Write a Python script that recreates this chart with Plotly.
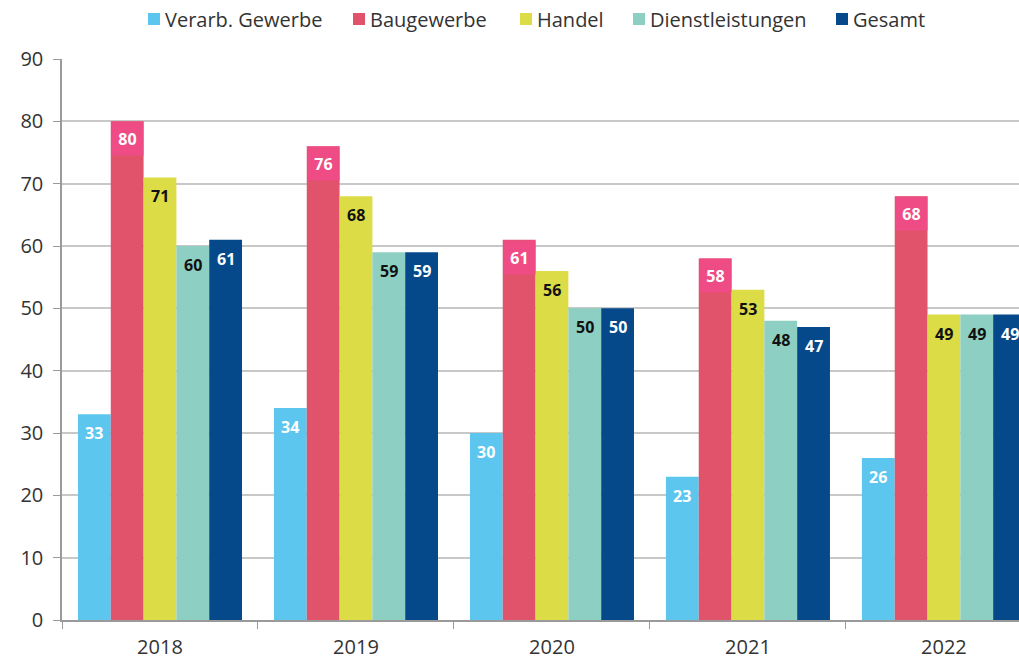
import plotly.graph_objects as go

years = ["2018", "2019", "2020", "2021", "2022"]
series_names = ["Verarb. Gewerbe", "Baugewerbe", "Handel", "Dienstleistungen", "Gesamt"]
verarb = [33, 34, 30, 23, 26]
bau = [80, 76, 61, 58, 68]
handel = [71, 68, 56, 53, 49]
dienst = [60, 59, 50, 48, 49]
gesamt = [61, 59, 50, 47, 49]
y_ticks = [0, 10, 20, 30, 40, 50, 60, 70, 80, 90]

series = [verarb, bau, handel, dienst, gesamt]
colors = ["#5cc6ef", "#e0536a", "#dcdc46", "#8dcfc2", "#06498a"]
text_colors = ["white", "white", "#111111", "#111111", "white"]
label_bg = [None, "#ef4c86", None, None, None]

FONT = "Open Sans"
W, H = 1019, 662
PL, PR, PT, PB = 62, 1019, 59, 620          # plot area in window pixels
ML, MR, MT, MB = PL, W - PR, PT, H - PB
PW, PH = PR - PL, PB - PT

fig = go.Figure()
for name, vals, c in zip(series_names, series, colors):
    fig.add_trace(go.Bar(name=name, x=years, y=vals, showlegend=False,
                         marker=dict(color=c, line=dict(width=0))))

n = len(series)
bargap = 0.163
bw = (1 - bargap) / n
annotations = []
for si, (vals, tc, bg) in enumerate(zip(series, text_colors, label_bg)):
    for ci, v in enumerate(vals):
        xpos = ci - (1 - bargap) / 2 + bw * (si + 0.5)
        a = dict(x=xpos, y=v, xref="x", yref="y", text="<b>%d</b>" % v, showarrow=False,
                 yanchor="middle", yshift=-19, font=dict(family=FONT, size=16, color=tc))
        if bg:
            a.update(bgcolor=bg, width=31, height=33, yanchor="top", yshift=0, borderpad=0)
        annotations.append(a)

# manual legend (window pixel positions converted to paper coords)
legend_px = [148, 353, 520, 633, 836]
legend_cy = 19
shapes = []
leg_y = (PB - legend_cy) / PH
for name, c, px in zip(series_names, colors, legend_px):
    xp = (px - PL) / PW
    shapes.append(dict(type="rect", xref="paper", yref="paper", xsizemode="pixel", ysizemode="pixel",
                       xanchor=xp, yanchor=leg_y, x0=0, x1=12, y0=-6, y1=6,
                       fillcolor=c, line=dict(width=0)))
    annotations.append(dict(x=(px + 15 - PL) / PW, y=leg_y, xref="paper", yref="paper",
                            text=name, showarrow=False, xanchor="left", yanchor="middle",
                            font=dict(family=FONT, size=20, color="#333333")))

fig.update_layout(
    width=W, height=H,
    margin=dict(l=ML, r=MR, t=MT, b=MB, autoexpand=False),
    paper_bgcolor="white", plot_bgcolor="white",
    barmode="group", bargap=bargap, bargroupgap=0,
    font=dict(family=FONT, size=20, color="#333333"),
    showlegend=False,
    annotations=annotations,
    shapes=shapes,
    xaxis=dict(type="category", range=[-0.5, 4.383], showgrid=False, showline=True,
               linecolor="#9a9a9a", linewidth=1.5, ticks="outside", tickson="boundaries",
               ticklen=7, tickcolor="#9a9a9a", tickfont=dict(size=20, color="#333333"),
               ticklabelstandoff=8, automargin=False),
    yaxis=dict(range=[0, 90], tickvals=y_ticks, showgrid=True, gridcolor="#c8c8c8", gridwidth=1.5,
               showline=True, linecolor="#9a9a9a", linewidth=1.5, ticks="outside", ticklen=7,
               tickcolor="#9a9a9a", zeroline=False, tickfont=dict(size=20, color="#333333"),
               ticklabelstandoff=6, automargin=False),
)
# remove the default 8px page margin so the figure fills the window exactly
fig.write_html("out.html", config={"displayModeBar": False},
               post_script="document.body.style.margin='0';document.body.style.overflow='hidden';")
